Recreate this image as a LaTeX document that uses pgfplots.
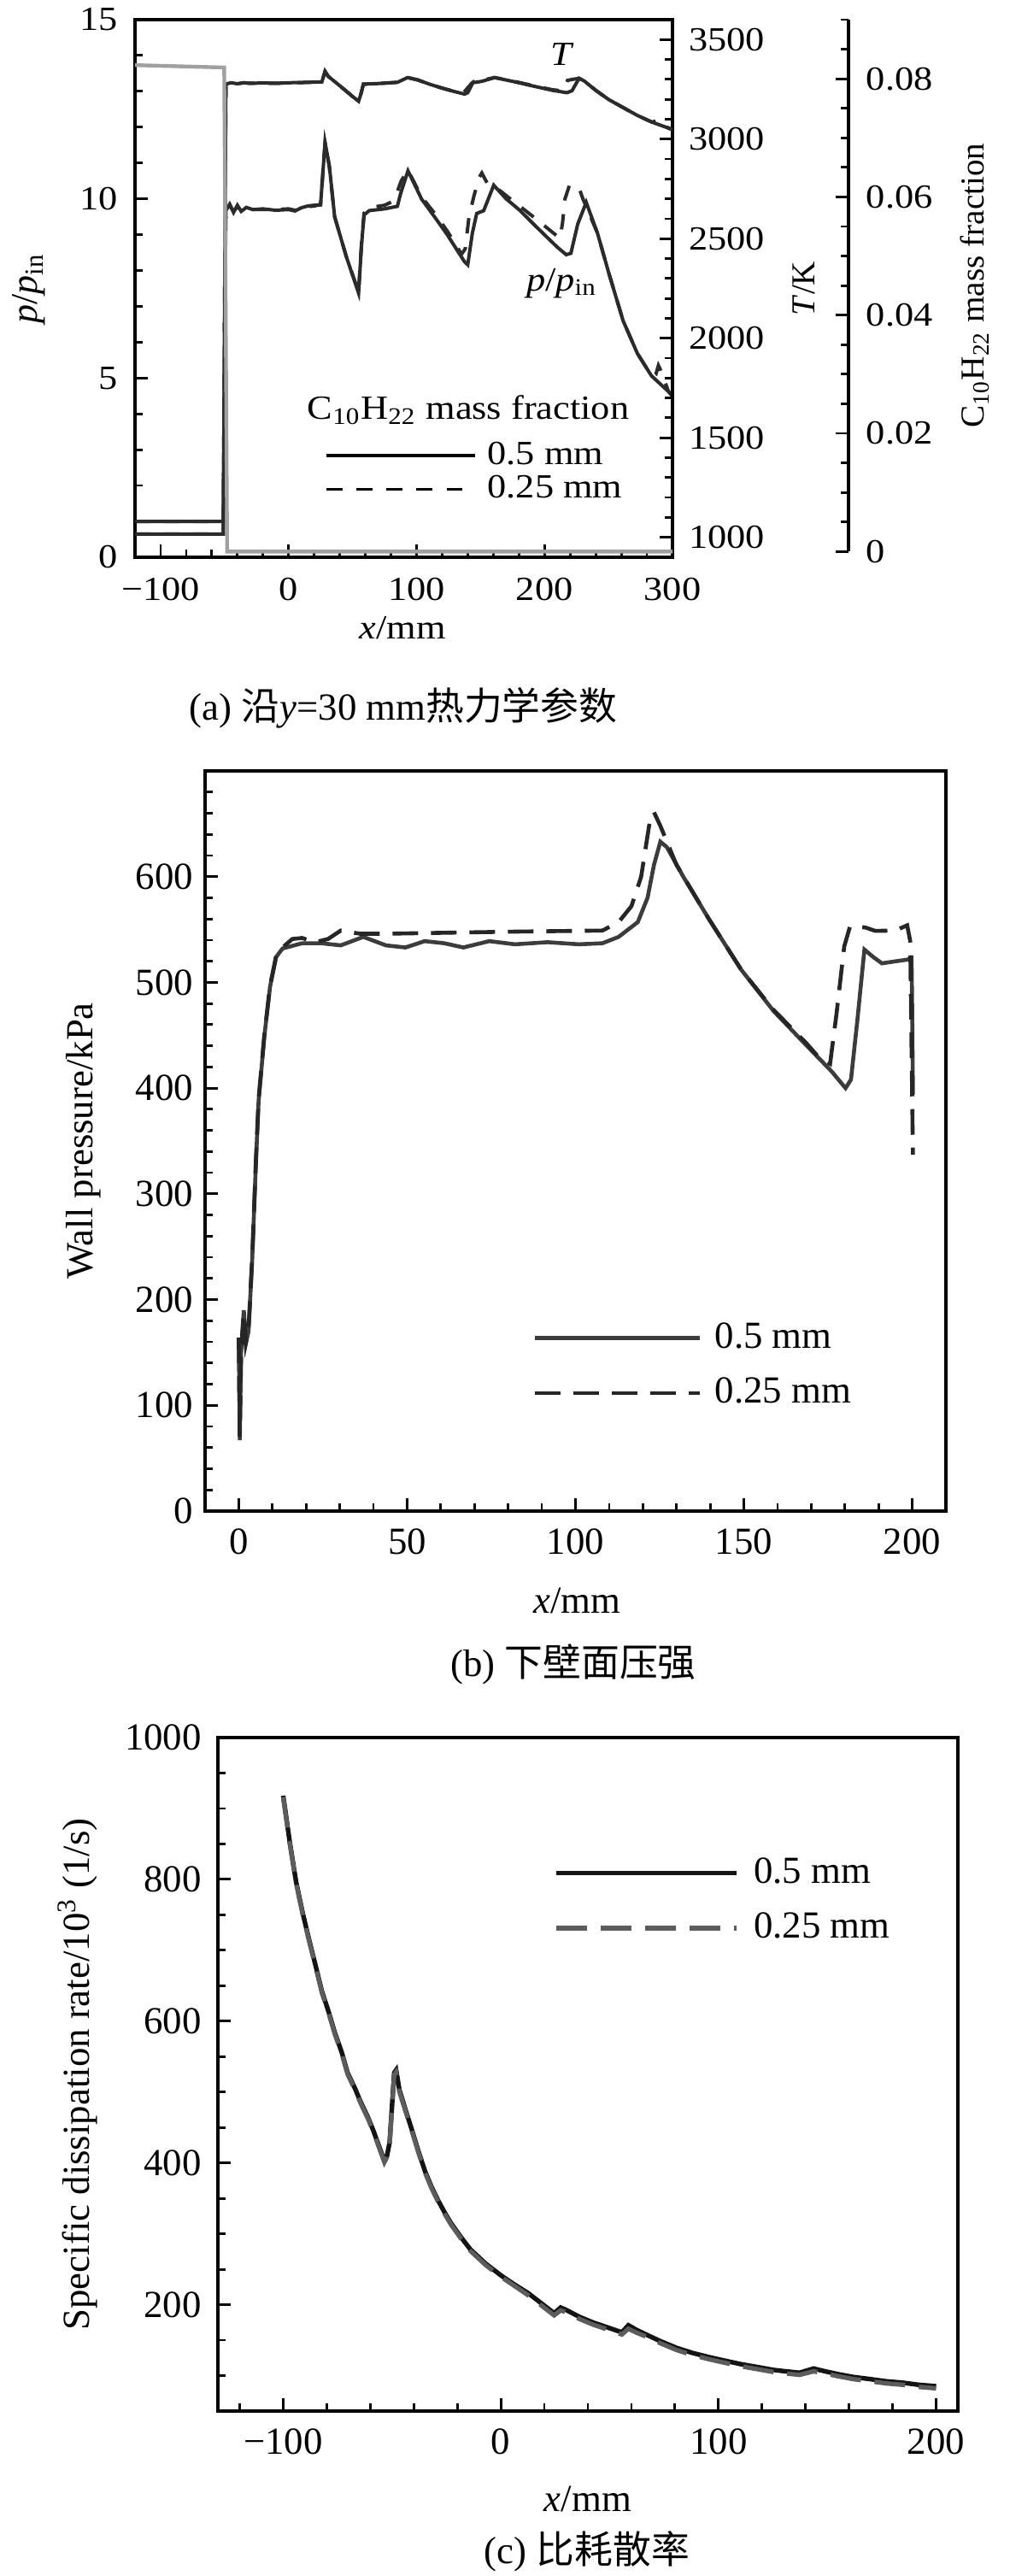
\documentclass[border=0pt]{standalone}
\usepackage{fontspec}
\setmainfont{Liberation Serif}
\newfontfamily\cjk{Noto Sans CJK SC}
\newfontfamily\afam{Liberation Serif}[FakeStretch=1.12]
\usepackage{pgfplots}
\pgfplotsset{compat=1.18}
\newcommand\fa{\afam\fontsize{9.9}{11.5}\selectfont}
\newcommand\fr{\fontsize{9.8}{11.5}\selectfont}
\newcommand\fb{\fontsize{11.2}{13.5}\selectfont}
\definecolor{curve}{HTML}{2B2B2B}
\definecolor{mfgray}{HTML}{A0A0A0}
\definecolor{bsolid}{HTML}{3C3C3C}
\definecolor{bdash}{HTML}{262626}
\definecolor{csolid}{HTML}{141414}
\definecolor{cdash}{HTML}{5C5C5C}
\pgfplotsset{
  base/.style={scale only axis, anchor=south west,
    axis line style={line width=0.8pt},
    every tick/.append style={line width=0.7pt, black},
    tick align=inside, major tick length=3.75pt, minor tick length=2.25pt,
    tick pos=left, scaled x ticks=false, scaled y ticks=false},
}
\begin{document}
\begin{tikzpicture}
\path[use as bounding box] (0,0) rectangle (295.25pt,753.5pt);

% ================= Panel (a): pressure ratio =================
\begin{axis}[base, at={(39.5pt,590.5pt)}, width=157.25pt, height=157.25pt,
  xmin=-120, xmax=300, ymin=0, ymax=15,
  xtick={-100,0,100,200,300}, xticklabels={−100,0,100,200,300},
  minor xtick={-120,-100,...,300},
  ytick={0,5,10,15}, yticklabels={0,5,10,15},
  minor ytick={0,1,...,15},
  xticklabel style={font=\fa, yshift=-2.5pt},
  yticklabel style={font=\fa, xshift=-1.5pt},
  xlabel={\textit{x}/mm}, ylabel={\textit{p}/\textit{p}\textsubscript{in}},
  xlabel style={font=\fa, at={(axis description cs:0.498,-0.132)}, anchor=center},
  ylabel style={font=\fontsize{11}{13}\selectfont, at={(axis description cs:-0.197,0.5)}, anchor=center},
]
\addplot[curve, line width=1pt] coordinates {
(-120,1.0) (-51,1.0) (-49,9.67) (-46,9.85) (-43,9.62) (-40,9.82) (-37,9.65) (-33,9.76) (-28,9.70) (-20,9.72) (-10,9.68) (0,9.70) (5,9.66) (10,9.75) (15,9.80) (20,9.82) (25,9.83) (28.5,11.57) (31.8,10.94) (36,9.5) (45,8.4) (54.7,7.37) (57,8.71) (59,9.55) (63,9.67) (75,9.72) (85,9.79) (87.5,10.14) (93.3,10.78) (104,9.99) (114,9.5) (124,9.0) (132,8.55) (137.6,8.24) (140,8.16) (143.6,9.04) (147,9.59) (152.5,9.67) (160.3,10.38) (170,10.0) (180,9.7) (195,9.17) (210,8.65) (217,8.44) (220.6,8.48) (226,9.3) (232.6,9.9) (241.4,9.04) (250.3,7.92) (261.4,6.6) (272.5,5.69) (283.6,5.06) (296.9,4.62) (300,4.5)
};
\addplot[curve, line width=1pt, dash pattern=on 4.5pt off 4pt] coordinates {
(-120,1.0) (-51,1.0) (-49,9.7) (-46,9.82) (-43,9.65) (-40,9.78) (-37,9.68) (-33,9.74) (-28,9.7) (-20,9.7) (-10,9.7) (0,9.72) (5,9.68) (10,9.74) (15,9.78) (20,9.8) (25,9.84) (28.5,11.55) (31.8,10.9) (36,9.5) (45,8.4) (54.7,7.4) (57,8.75) (59,9.6) (63,9.75) (75,9.82) (81,9.92) (85,10.2) (88,10.5) (93.3,10.8) (104,10.05) (114,9.6) (124,9.1) (132,8.65) (135,8.45) (138,8.6) (141,9.5) (145,10.1) (149,10.6) (151,10.72) (155,10.45) (162.6,10.3) (175,9.95) (193,9.45) (205,9.1) (212,8.9) (214,9.3) (216,10.0) (219.5,10.38) (227,10.3) (230,10.0) (233,9.75) (241.4,9.04) (250.3,7.92) (261.4,6.6) (272.5,5.69) (283.6,5.06) (287,5.1) (289,5.35) (291,5.2) (296.9,4.62) (300,4.5)
};
\node[font=\fa\itshape] at (axis cs:213.4,14.04) {T};
\node[font=\fa] at (axis cs:213.5,7.65) {\textit{p}/\textit{p}\textsubscript{in}};
\node[font=\fa] at (axis description cs:0.62,0.2734) {C\textsubscript{10}H\textsubscript{22} mass fraction};
\end{axis}

% ================= Panel (a): temperature =================
\begin{axis}[base, at={(39.5pt,590.5pt)}, width=157.25pt, height=157.25pt,
  xmin=-120, xmax=300, ymin=900, ymax=3600,
  axis x line=none, axis y line*=right, ytick pos=right,
  ytick={1000,1500,2000,2500,3000,3500}, yticklabels={1000,1500,2000,2500,3000,3500},
  minor ytick={900,1000,...,3600},
  yticklabel style={font=\fa, xshift=1.3pt},
  ylabel={\textit{T}/K},
  ylabel style={font=\fr, at={(axis description cs:1.245,0.5)}, anchor=center},
]
\addplot[curve, line width=1pt] coordinates {
(-120,1016) (-51,1016) (-49,3276) (-45,3283) (-40,3278) (-35,3283) (-30,3280) (-20,3282) (-10,3280) (0,3283) (10,3284) (20,3286) (26,3287) (28.5,3340) (31,3315) (40,3268) (50,3214) (54.7,3190) (56.5,3226) (58.5,3276) (70,3279) (85,3285) (93,3309) (101,3297) (110,3276) (120,3256) (130,3238) (137.6,3226) (140,3233) (144,3283) (151,3290) (161,3309) (175,3290) (190,3268) (206,3245) (217.5,3233) (221.5,3243) (227,3305) (231,3292) (240,3245) (250.3,3198) (261.5,3158) (272.5,3119) (284,3085) (296.9,3055) (300,3048)
};
\addplot[curve, line width=1pt, dash pattern=on 4.5pt off 4pt] coordinates {
(-120,1016) (-51,1016) (-49,3276) (-45,3283) (-40,3278) (-35,3283) (-30,3280) (-20,3282) (-10,3280) (0,3283) (10,3284) (20,3286) (26,3287) (28.5,3340) (31,3315) (40,3268) (50,3214) (54.7,3190) (56.5,3226) (58.5,3276) (70,3279) (85,3285) (93,3309) (101,3297) (110,3276) (120,3256) (130,3238) (136,3228) (139,3250) (143,3280) (147,3300) (149.5,3309) (153,3298) (161,3309) (175,3292) (190,3270) (206,3248) (214,3242) (216,3265) (218,3295) (222,3300) (227,3305) (231,3292) (240,3245) (250.3,3198) (261.5,3158) (272.5,3119) (284,3085) (289,3095) (292,3075) (296.9,3055) (300,3048)
};
\end{axis}

% ================= Panel (a): mass fraction curve + legend =================
\begin{axis}[base, at={(39.5pt,590.5pt)}, width=157.25pt, height=157.25pt,
  xmin=-120, xmax=300, ymin=-0.00095, ymax=0.09, hide axis,
  legend style={draw=none, fill=none, at={(axis description cs:0.353,0.2147)}, anchor=north west,
    inner sep=0pt, outer sep=0pt, row sep=1.75pt, column sep=3.25pt, font=\fa,
    nodes={inner sep=0pt, outer sep=0pt}},
  legend cell align=left,
  legend image code/.code={\draw[#1] (0pt,0pt) -- (43.5pt,0pt);},
]
\addplot[mfgray, line width=1.1pt, forget plot] coordinates {
(-120,0.0823) (-50.3,0.0819) (-48,0.0) (300,0.0)
};
\addlegendimage{black, line width=0.9pt}
\addlegendentry{0.5 mm}
\addlegendimage{black, line width=0.9pt, dash pattern=on 4.7pt off 4.1pt}
\addlegendentry{0.25 mm}
\end{axis}

% ================= Panel (a): mass fraction scale =================
\begin{axis}[base, at={(247.25pt,592.15pt)}, width=1pt, height=155.6pt,
  xmin=0, xmax=1, ymin=0, ymax=0.09,
  axis x line=none, axis y line*=right, ytick pos=right,
  ytick={0,0.02,0.04,0.06,0.08}, yticklabels={0,0.02,0.04,0.06,0.08},
  minor ytick={0.005,0.01,0.015,0.025,0.03,0.035,0.045,0.05,0.055,0.065,0.07,0.075,0.085,0.09},
  yticklabel style={font=\fa, xshift=1.7pt},
  ylabel={C\textsubscript{10}H\textsubscript{22} mass fraction},
  ylabel style={font=\fr, at={(axis description cs:38,0.5)}, anchor=center},
]
\end{axis}

% ================= Panel (b) =================
\begin{axis}[base, at={(60pt,311.5pt)}, width=216.75pt, height=216.5pt,
  xmin=-10, xmax=210, ymin=0, ymax=700,
  xtick={0,50,100,150,200}, xticklabels={0,50,100,150,200},
  minor xtick={-10,0,...,210},
  ytick={0,100,...,600}, yticklabels={0,100,200,300,400,500,600},
  minor ytick={0,20,...,700},
  tick label style={font=\fb},
  xticklabel style={yshift=-1.75pt},
  xlabel={\textit{x}/mm}, ylabel={Wall pressure/kPa},
  xlabel style={font=\fb, at={(axis description cs:0.502,-0.121)}, anchor=center},
  ylabel style={font=\fb, at={(axis description cs:-0.164,0.5)}, anchor=center},
  legend style={draw=none, fill=none, at={(axis description cs:0.4429,0.2543)}, anchor=north west,
    inner sep=0pt, outer sep=0pt, row sep=7.15pt, column sep=3.75pt, font=\fb,
    nodes={inner sep=0pt, outer sep=0pt}},
  legend cell align=left,
  legend image code/.code={\draw[#1] (0pt,0pt) -- (48.25pt,0pt);},
]
\addplot[bsolid, line width=1.15pt] coordinates {
(0,164) (0.3,67) (0.7,150) (1.5,190) (2.1,158) (2.9,170) (4,238) (5.1,330) (5.9,388) (7.6,449) (9.3,496) (11.1,524) (13,532) (18.8,537) (24.5,537) (30.3,535) (37,543) (43.7,535) (49.5,533) (55.2,539) (61,537) (66.7,533) (74.4,539) (82,536) (91.7,538) (101,536) (108,537) (112.8,543) (118.5,557) (121.4,580) (123.3,611) (125.2,633) (127.1,628) (132,600) (139.6,560) (149.2,512) (158.8,473) (168.4,441) (176,416) (180.2,400) (181.8,408) (183.7,464) (185.8,531) (188.4,524) (191,518) (195.2,520) (198.5,521.5) (199.8,523) (200,470) (200.2,394)
};
\addplot[bdash, line width=1.15pt, dash pattern=on 7.5pt off 3.75pt] coordinates {
(0,164) (0.3,70) (0.7,152) (1.5,188) (2.1,160) (2.9,172) (4,240) (5.1,332) (5.9,390) (7.6,450) (9.3,497) (11.1,525) (13,533) (15.9,541) (18.8,542) (22.6,538) (26.5,541) (30.3,549) (36,546) (43.7,546) (62.9,547) (82,548) (108,549) (112.8,557) (116.6,572) (119.5,600) (122,651) (123.3,661) (125.2,648) (130,611) (139.6,560) (149.2,512) (158.8,474) (168.4,443) (172,430) (175.6,423) (177.5,470) (179.8,534) (181.5,552.6) (186,552) (189,548.7) (195,549) (198.5,554) (199.4,539) (200.2,337)
};
\addlegendentry{0.5 mm}
\addlegendentry{0.25 mm}
\end{axis}

% ================= Panel (c) =================
\begin{axis}[base, at={(63.75pt,48.25pt)}, width=216.5pt, height=197pt,
  xmin=-130, xmax=210, ymin=50, ymax=1000,
  xtick={-100,0,100,200}, xticklabels={−100,0,100,200},
  minor xtick={-120,-100,...,200},
  ytick={200,400,600,800,1000}, yticklabels={200,400,600,800,1000},
  minor ytick={50,100,...,1000},
  tick label style={font=\fb},
  xticklabel style={yshift=-1.75pt},
  yticklabel style={xshift=-1.3pt},
  xlabel={\textit{x}/mm}, ylabel={Specific dissipation rate/10\textsuperscript{3} (1/s)},
  xlabel style={font=\fb, at={(axis description cs:0.5,-0.131)}, anchor=center},
  ylabel style={font=\fb, at={(axis description cs:-0.19,0.5)}, anchor=center},
  legend style={draw=none, fill=none, at={(axis description cs:0.4538,0.8213)}, anchor=north west,
    inner sep=0pt, outer sep=0pt, row sep=7.15pt, column sep=4.5pt, font=\fb,
    nodes={inner sep=0pt, outer sep=0pt}},
  legend cell align=left,
  legend image code/.code={\draw[#1] (0pt,0pt) -- (52.75pt,0pt);},
]
\addplot[csolid, line width=1.35pt] coordinates {
(-100,918) (-97,853) (-94.1,797) (-91,752) (-88.1,715) (-85,677) (-82.2,642) (-79,612) (-76.3,584) (-73,555) (-70.4,527) (-67,505) (-64.4,486) (-61,464) (-58.5,445) (-56,424) (-53.5,403) (-52.3,410) (-51.1,429) (-50,480) (-49,527) (-48.1,531) (-46.6,503) (-43.7,474) (-40.7,445) (-37.7,415) (-34.8,388) (-31.8,366) (-28.8,347) (-25.8,330) (-22.9,315) (-18.5,296) (-14,278) (-7,258) (0.2,241) (6.5,228) (12.7,216) (18.6,202) (24.5,188) (27.5,196) (30.4,192) (36,183) (42.3,175) (49,168) (55.6,161) (58.6,171) (62,165) (66,159) (73,149) (80.8,139) (88,132) (95.7,126) (103,121) (110.5,116) (118,112) (125.3,108) (131,106) (137.2,104) (143.7,110) (149,106) (155,102) (162,98) (169.8,95) (177,92) (184.6,90) (192,87) (200,85)
};
\addplot[cdash, line width=1.3pt, dash pattern=on 9pt off 4pt] coordinates {
(-100,916) (-97,851) (-94.1,795) (-91,750) (-88.1,713) (-85,675) (-82.2,640) (-79,610) (-76.3,582) (-73,553) (-70.4,525) (-67,503) (-64.4,484) (-61,462) (-58.5,443) (-56,422) (-53.5,401) (-52.3,408) (-51.1,427) (-50,477) (-49,524) (-48.1,528) (-46.6,500) (-43.7,472) (-40.7,443) (-37.7,413) (-34.8,386) (-31.8,364) (-28.8,345) (-25.8,328) (-22.9,313) (-18.5,294) (-14,276) (-7,256) (0.2,239) (6.5,226) (12.7,213) (18.6,199) (24.5,185) (27.5,192) (30.4,189) (36,180) (42.3,172) (49,165) (55.6,158) (58.6,166) (62,161) (66,156) (73,146) (80.8,136) (88,129) (95.7,123) (103,118) (110.5,113) (118,109) (125.3,105) (131,103) (137.2,101) (143.7,106) (149,103) (155,99) (162,95) (169.8,92) (177,89) (184.6,87) (192,84) (200,82)
};
\addlegendentry{0.5 mm}
\addlegendentry{0.25 mm}
\end{axis}

% ================= Captions =================
\node[font=\fb] at (118pt,546.5pt) {(a) {\cjk 沿}\textit{y}=30 mm{\cjk 热力学参数}};
\node[font=\fb] at (167.75pt,266.75pt) {(b) {\cjk 下壁面压强}};
\node[font=\fb] at (171.75pt,7.25pt) {(c) {\cjk 比耗散率}};
\end{tikzpicture}
\end{document}
